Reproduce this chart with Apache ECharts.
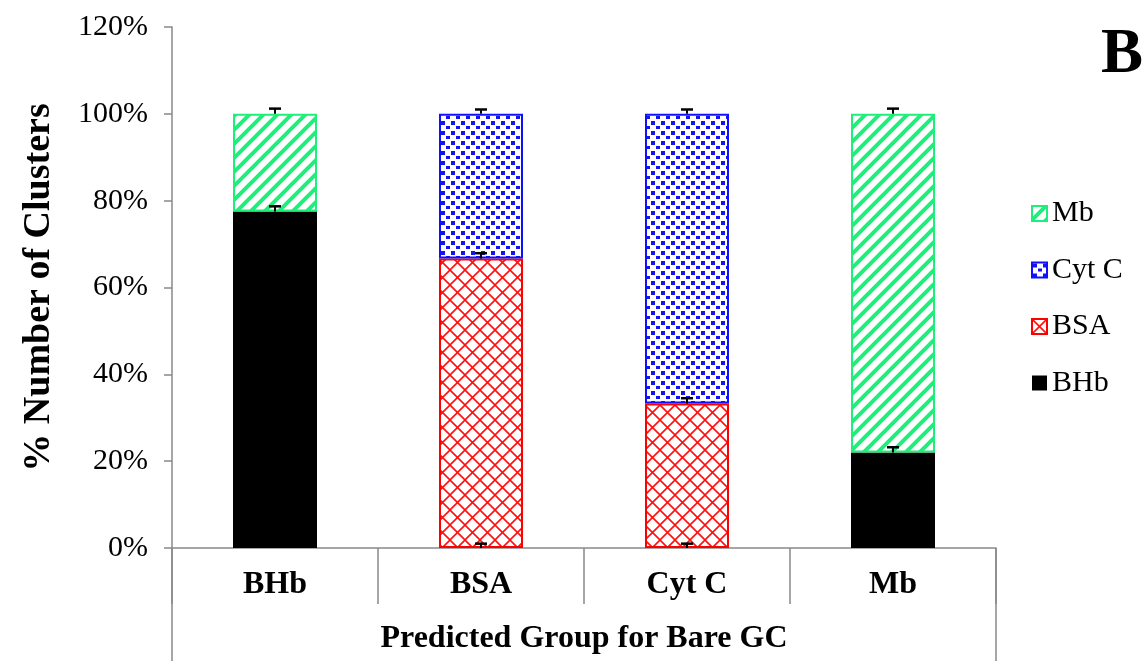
<!DOCTYPE html>
<html>
<head>
<meta charset="utf-8">
<script src="https://cdn.jsdelivr.net/npm/echarts@6/dist/echarts.min.js"></script>
<style>
  html, body { margin: 0; padding: 0; background: #fff; }
  #chart { width: 1145px; height: 661px; }
</style>
</head>
<body>
<div id="chart"></div>
<script>
// categories (predicted group) and stacked shares in %
const categories = ['BHb', 'BSA', 'Cyt C', 'Mb'];
const bhbVals  = [77.5, 0, 0, 22];
const bsaVals  = [0, 66.7, 33.3, 0];
const cytcVals = [0, 33.3, 66.7, 0];
const mbVals   = [22.5, 0, 0, 78];
// error bars (only the upper half is drawn)
const bhbErr  = [1.2, 1.0, 1.0, 1.2];
const bsaErr  = [0, 1.2, 1.2, 0];
const cytcErr = [0, 1.0, 1.0, 0];
const mbErr   = [1.2, 0, 0, 1.2];
const yTicks = [0, 20, 40, 60, 80, 100, 120];

const font = 'Liberation Serif';
const axisGray = '#898989';

// small canvas fills for the hatch patterns
function makeTile(w, h, draw) {
  const c = document.createElement('canvas');
  c.width = w; c.height = h;
  const ctx = c.getContext('2d');
  ctx.fillStyle = '#fff';
  ctx.fillRect(0, 0, w, h);
  draw(ctx);
  return { image: c, repeat: 'repeat' };
}
const stripes = makeTile(14, 14, function (ctx) {
  ctx.strokeStyle = '#1cf07a';
  ctx.lineWidth = 4;
  ctx.beginPath();
  ctx.moveTo(-7, 7); ctx.lineTo(7, -7);
  ctx.moveTo(0, 14); ctx.lineTo(14, 0);
  ctx.moveTo(7, 21); ctx.lineTo(21, 7);
  ctx.stroke();
});
const hatch = makeTile(15, 15, function (ctx) {
  ctx.strokeStyle = '#ff1010';
  ctx.lineWidth = 1.6;
  ctx.beginPath();
  ctx.moveTo(0, 0); ctx.lineTo(15, 15);
  ctx.moveTo(15, 0); ctx.lineTo(0, 15);
  ctx.stroke();
});
const dots = makeTile(10, 10, function (ctx) {
  ctx.fillStyle = '#1414f0';
  ctx.fillRect(1, 1, 4, 4);
  ctx.fillRect(6, 6, 4, 3);
});

function barData(vals) {
  return vals.map(function (v) { return v === 0 ? '-' : v; });
}

// error bar positions sit on the top of each stacked segment
const stackOrder = [[bhbVals, bhbErr], [bsaVals, bsaErr], [cytcVals, cytcErr], [mbVals, mbErr]];
const errData = [];
const running = categories.map(function () { return 0; });
stackOrder.forEach(function (pair) {
  pair[0].forEach(function (v, i) {
    running[i] += v;
    if (pair[1][i] > 0) errData.push([i, running[i], pair[1][i]]);
  });
});

const chart = echarts.init(document.getElementById('chart'));
const gridLeft = 172, gridRight = 996, gridBottom = 548;

const option = {
  animation: false,
  grid: { left: gridLeft, right: 1145 - gridRight, top: 27, bottom: 661 - gridBottom },
  legend: {
    orient: 'vertical',
    left: 1026,
    top: 193,
    data: ['Mb', 'Cyt C', 'BSA', 'BHb'],
    icon: 'rect',
    itemWidth: 15,
    itemHeight: 15,
    itemGap: 25.5,
    textStyle: { fontFamily: font, fontSize: 30, color: '#000', lineHeight: 31 }
  },
  xAxis: {
    type: 'category',
    data: categories,
    axisLine: { lineStyle: { color: axisGray, width: 1.5 } },
    axisTick: { show: true, length: 56, lineStyle: { color: axisGray, width: 1.5 } },
    axisLabel: { fontFamily: font, fontWeight: 'bold', fontSize: 32, color: '#000', margin: 21 },
    name: 'Predicted Group for Bare GC',
    nameLocation: 'middle',
    nameGap: 75,
    nameTextStyle: { fontFamily: font, fontWeight: 'bold', fontSize: 32, color: '#000' }
  },
  yAxis: {
    type: 'value',
    min: yTicks[0],
    max: yTicks[yTicks.length - 1],
    interval: yTicks[1] - yTicks[0],
    axisLine: { show: true, lineStyle: { color: axisGray, width: 1.5 } },
    axisTick: { show: true, length: 8, lineStyle: { color: axisGray, width: 1.5 } },
    axisLabel: { fontFamily: font, fontSize: 30, color: '#000', margin: 24, formatter: '{value}%' },
    splitLine: { show: false },
    name: '% Number of Clusters',
    nameLocation: 'middle',
    nameGap: 114,
    nameTextStyle: { fontFamily: font, fontWeight: 'bold', fontSize: 38, color: '#000' }
  },
  graphic: [
    { type: 'line', shape: { x1: gridLeft, y1: gridBottom, x2: gridLeft, y2: 661 },
      style: { stroke: axisGray, lineWidth: 1.5 } },
    { type: 'line', shape: { x1: gridRight, y1: gridBottom, x2: gridRight, y2: 661 },
      style: { stroke: axisGray, lineWidth: 1.5 } },
    { type: 'text', left: 1101, top: 24,
      style: { text: 'B', fontFamily: font, fontWeight: 'bold', fontSize: 63, fill: '#000' } }
  ],
  series: [
    { name: 'BHb', type: 'bar', stack: 'total', barWidth: 84, data: barData(bhbVals),
      itemStyle: { color: '#000' } },
    { name: 'BSA', type: 'bar', stack: 'total', data: barData(bsaVals),
      itemStyle: { color: hatch, borderColor: '#ff0000', borderWidth: 2 } },
    { name: 'Cyt C', type: 'bar', stack: 'total', data: barData(cytcVals),
      itemStyle: { color: dots, borderColor: '#1010ff', borderWidth: 2 } },
    { name: 'Mb', type: 'bar', stack: 'total', data: barData(mbVals),
      itemStyle: { color: stripes, borderColor: '#1cf07a', borderWidth: 2 } },
    {
      name: 'err', type: 'custom', z: 10, data: errData,
      renderItem: function (params, api) {
        const p0 = api.coord([api.value(0), api.value(1)]);
        const p1 = api.coord([api.value(0), api.value(1) + api.value(2)]);
        return {
          type: 'group',
          children: [
            { type: 'line', shape: { x1: p0[0], y1: p0[1], x2: p1[0], y2: p1[1] },
              style: { stroke: '#000', lineWidth: 2 } },
            { type: 'line', shape: { x1: p1[0] - 6, y1: p1[1], x2: p1[0] + 6, y2: p1[1] },
              style: { stroke: '#000', lineWidth: 2.5 } }
          ]
        };
      }
    }
  ]
};

chart.setOption(option);
window.addEventListener('resize', function () {
  chart.resize();
});
</script>
</body>
</html>
